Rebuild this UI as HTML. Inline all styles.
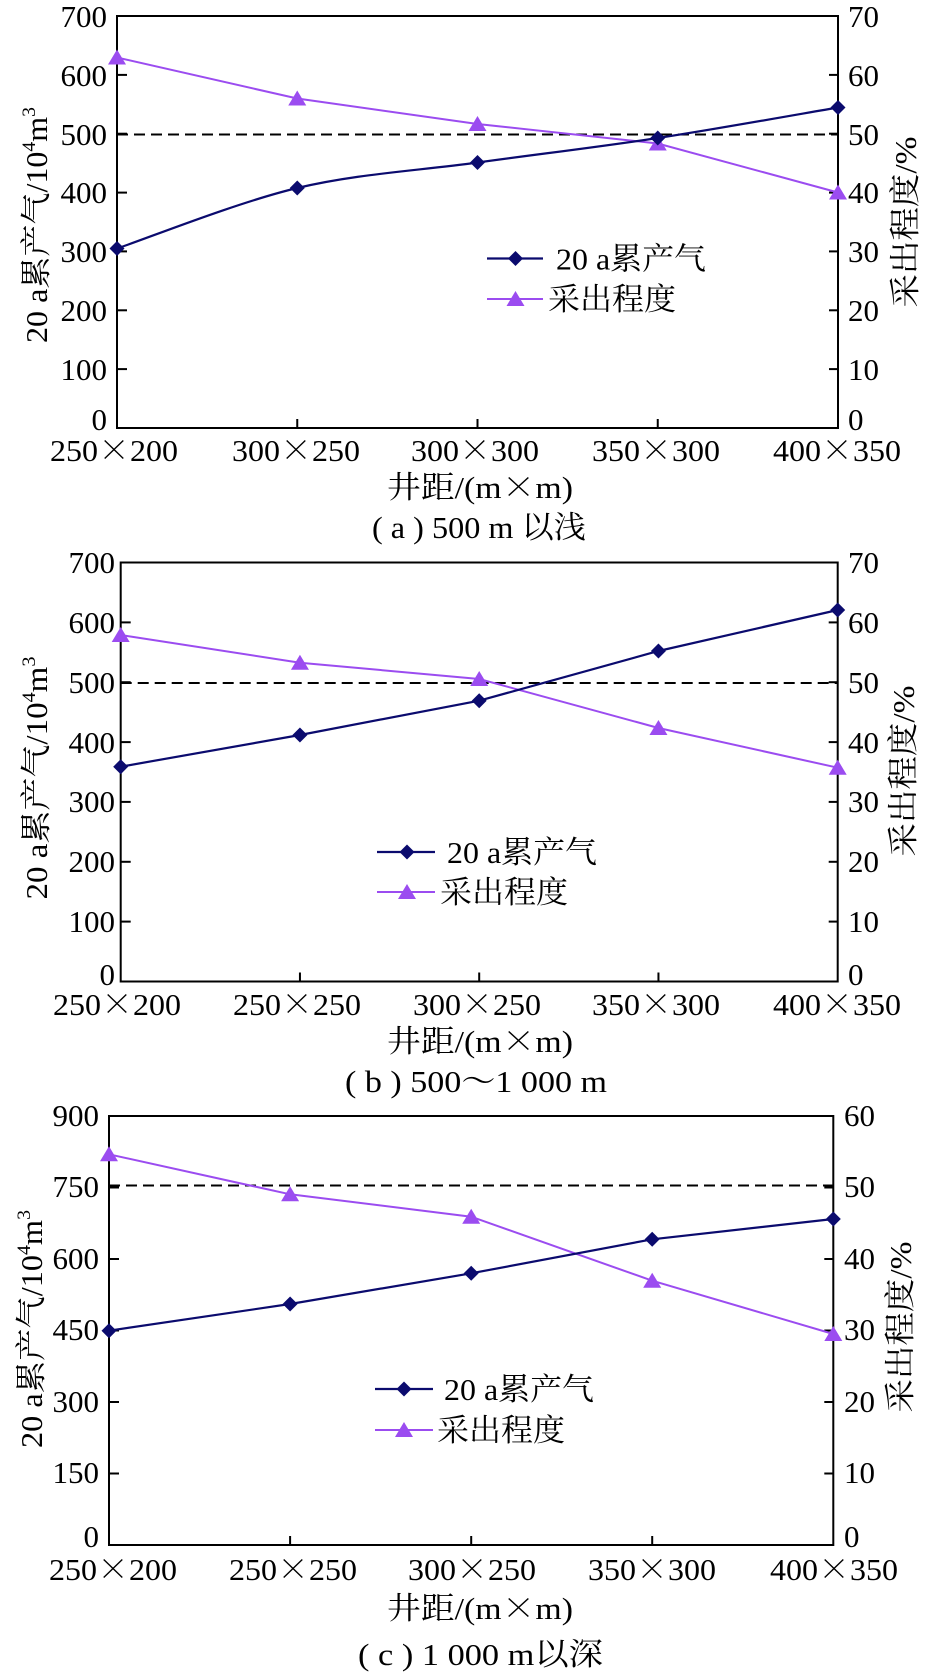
<!DOCTYPE html>
<html><head><meta charset="utf-8">
<style>
html,body{margin:0;padding:0;background:#fff;}
svg{display:block;}
text{font-family:"Liberation Serif","Noto Serif CJK SC",serif;fill:#000;}
.x{font-family:"Noto Serif CJK SC","Liberation Serif",serif;}
</style></head>
<body>
<svg width="927" height="1673" viewBox="0 0 927 1673" xmlns="http://www.w3.org/2000/svg">
<rect width="927" height="1673" fill="#fff"/>

<!-- ================= Chart (a) ================= -->
<g>
  <line x1="117" y1="134.5" x2="838" y2="134.5" stroke="#000" stroke-width="2" stroke-dasharray="11,6"/>
  <rect x="117" y="16" width="721" height="412" fill="none" stroke="#000" stroke-width="2"/>
  <g stroke="#000" stroke-width="2">
    <line x1="117" y1="74.9" x2="127" y2="74.9"/>
    <line x1="117" y1="133.7" x2="127" y2="133.7"/>
    <line x1="117" y1="192.6" x2="127" y2="192.6"/>
    <line x1="117" y1="251.4" x2="127" y2="251.4"/>
    <line x1="117" y1="310.3" x2="127" y2="310.3"/>
    <line x1="117" y1="369.1" x2="127" y2="369.1"/>
    <line x1="838" y1="74.9" x2="829" y2="74.9"/>
    <line x1="838" y1="133.7" x2="829" y2="133.7"/>
    <line x1="838" y1="192.6" x2="829" y2="192.6"/>
    <line x1="838" y1="251.4" x2="829" y2="251.4"/>
    <line x1="838" y1="310.3" x2="829" y2="310.3"/>
    <line x1="838" y1="369.1" x2="829" y2="369.1"/>
    <line x1="297.25" y1="428" x2="297.25" y2="419"/>
    <line x1="477.5" y1="428" x2="477.5" y2="419"/>
    <line x1="657.75" y1="428" x2="657.75" y2="419"/>
  </g>
  <g font-size="31" text-anchor="end">
    <text x="107" y="27">700</text>
    <text x="107" y="86">600</text>
    <text x="107" y="145">500</text>
    <text x="107" y="203">400</text>
    <text x="107" y="262">300</text>
    <text x="107" y="321">200</text>
    <text x="107" y="380">100</text>
    <text x="107" y="430">0</text>
  </g>
  <g font-size="31" text-anchor="start">
    <text x="848" y="27">70</text>
    <text x="848" y="86">60</text>
    <text x="848" y="145">50</text>
    <text x="848" y="203">40</text>
    <text x="848" y="262">30</text>
    <text x="848" y="321">20</text>
    <text x="848" y="380">10</text>
    <text x="848" y="430">0</text>
  </g>
  <g font-size="31">
    <text x="50" y="461" textLength="128" lengthAdjust="spacingAndGlyphs">250<tspan class="x">×</tspan>200</text>
    <text x="232" y="461" textLength="128" lengthAdjust="spacingAndGlyphs">300<tspan class="x">×</tspan>250</text>
    <text x="411" y="461" textLength="128" lengthAdjust="spacingAndGlyphs">300<tspan class="x">×</tspan>300</text>
    <text x="592" y="461" textLength="128" lengthAdjust="spacingAndGlyphs">350<tspan class="x">×</tspan>300</text>
    <text x="773" y="461" textLength="128" lengthAdjust="spacingAndGlyphs">400<tspan class="x">×</tspan>350</text>
  </g>
  <text x="387" y="498" font-size="31" textLength="186" lengthAdjust="spacingAndGlyphs">井距/(m<tspan class="x">×</tspan>m)</text>
  <text x="372" y="538" font-size="31" textLength="214" lengthAdjust="spacingAndGlyphs">( a ) 500 m 以浅</text>
  <text transform="translate(47,225) rotate(-90)" text-anchor="middle" font-size="31" textLength="236" lengthAdjust="spacingAndGlyphs">20 a累产气/10<tspan font-size="19" dy="-12">4</tspan><tspan dy="12">m</tspan><tspan font-size="19" dy="-12">3</tspan></text>
  <text transform="translate(916,222) rotate(-90)" text-anchor="middle" font-size="31" textLength="171" lengthAdjust="spacingAndGlyphs">采出程度/%</text>
  <polyline points="117,57.5 297.25,98.5 477.5,124 657.75,143.5 838,192.5" fill="none" stroke="#9b4cf0" stroke-width="2"/>
  <path d="M117,248.5 C147.04,238.42 237.17,202.33 297.25,188 C357.33,173.67 417.42,170.83 477.5,162.5 C537.58,154.17 597.67,147.17 657.75,138 C717.83,128.83 807.96,112.58 838,107.5" fill="none" stroke="#0b0b6e" stroke-width="2.2"/>
  <g fill="#9b4cf0">
    <polygon points="117,49.5 108,64.5 126,64.5"/>
    <polygon points="297.25,90.5 288.25,105.5 306.25,105.5"/>
    <polygon points="477.5,116 468.5,131 486.5,131"/>
    <polygon points="657.75,135.5 648.75,150.5 666.75,150.5"/>
    <polygon points="838,184.5 829,199.5 847,199.5"/>
  </g>
  <g fill="#0b0b6e">
    <polygon points="117,241 124.5,248.5 117,256 109.5,248.5"/>
    <polygon points="297.25,180.5 304.75,188 297.25,195.5 289.75,188"/>
    <polygon points="477.5,155 485,162.5 477.5,170 470,162.5"/>
    <polygon points="657.75,130.5 665.25,138 657.75,145.5 650.25,138"/>
    <polygon points="838,100 845.5,107.5 838,115 830.5,107.5"/>
  </g>
  <line x1="487" y1="258.5" x2="543" y2="258.5" stroke="#0b0b6e" stroke-width="2.2"/>
  <polygon points="515.5,251 523,258.5 515.5,266 508,258.5" fill="#0b0b6e"/>
  <text x="556" y="269.5" font-size="31" textLength="150" lengthAdjust="spacingAndGlyphs">20 a累产气</text>
  <line x1="487" y1="299" x2="543" y2="299" stroke="#9b4cf0" stroke-width="2"/>
  <polygon points="515.5,291 506.5,306 524.5,306" fill="#9b4cf0"/>
  <text x="548" y="310" font-size="31" textLength="128" lengthAdjust="spacingAndGlyphs">采出程度</text>
</g>

<!-- ================= Chart (b) ================= -->
<g>
  <line x1="120.7" y1="683" x2="837.7" y2="683" stroke="#000" stroke-width="2" stroke-dasharray="11,6"/>
  <rect x="120.7" y="562.5" width="717" height="419" fill="none" stroke="#000" stroke-width="2"/>
  <g stroke="#000" stroke-width="2">
    <line x1="120.7" y1="622.4" x2="130.7" y2="622.4"/>
    <line x1="120.7" y1="682.2" x2="130.7" y2="682.2"/>
    <line x1="120.7" y1="742.1" x2="130.7" y2="742.1"/>
    <line x1="120.7" y1="801.9" x2="130.7" y2="801.9"/>
    <line x1="120.7" y1="861.8" x2="130.7" y2="861.8"/>
    <line x1="120.7" y1="921.6" x2="130.7" y2="921.6"/>
    <line x1="837.7" y1="622.4" x2="828.7" y2="622.4"/>
    <line x1="837.7" y1="682.2" x2="828.7" y2="682.2"/>
    <line x1="837.7" y1="742.1" x2="828.7" y2="742.1"/>
    <line x1="837.7" y1="801.9" x2="828.7" y2="801.9"/>
    <line x1="837.7" y1="861.8" x2="828.7" y2="861.8"/>
    <line x1="837.7" y1="921.6" x2="828.7" y2="921.6"/>
    <line x1="299.95" y1="981.5" x2="299.95" y2="972.5"/>
    <line x1="479.2" y1="981.5" x2="479.2" y2="972.5"/>
    <line x1="658.45" y1="981.5" x2="658.45" y2="972.5"/>
  </g>
  <g font-size="31" text-anchor="end">
    <text x="115" y="573">700</text>
    <text x="115" y="633">600</text>
    <text x="115" y="693">500</text>
    <text x="115" y="753">400</text>
    <text x="115" y="812">300</text>
    <text x="115" y="872">200</text>
    <text x="115" y="932">100</text>
    <text x="115" y="985">0</text>
  </g>
  <g font-size="31" text-anchor="start">
    <text x="848" y="573">70</text>
    <text x="848" y="633">60</text>
    <text x="848" y="693">50</text>
    <text x="848" y="753">40</text>
    <text x="848" y="812">30</text>
    <text x="848" y="872">20</text>
    <text x="848" y="932">10</text>
    <text x="848" y="985">0</text>
  </g>
  <g font-size="31">
    <text x="53" y="1015" textLength="128" lengthAdjust="spacingAndGlyphs">250<tspan class="x">×</tspan>200</text>
    <text x="233" y="1015" textLength="128" lengthAdjust="spacingAndGlyphs">250<tspan class="x">×</tspan>250</text>
    <text x="413" y="1015" textLength="128" lengthAdjust="spacingAndGlyphs">300<tspan class="x">×</tspan>250</text>
    <text x="592" y="1015" textLength="128" lengthAdjust="spacingAndGlyphs">350<tspan class="x">×</tspan>300</text>
    <text x="773" y="1015" textLength="128" lengthAdjust="spacingAndGlyphs">400<tspan class="x">×</tspan>350</text>
  </g>
  <text x="387" y="1052" font-size="31" textLength="186" lengthAdjust="spacingAndGlyphs">井距/(m<tspan class="x">×</tspan>m)</text>
  <text x="345" y="1092" font-size="31" textLength="262" lengthAdjust="spacingAndGlyphs">( b ) 500～1 000 m</text>
  <text transform="translate(47,778) rotate(-90)" text-anchor="middle" font-size="31" textLength="243" lengthAdjust="spacingAndGlyphs">20 a累产气/10<tspan font-size="19" dy="-12">4</tspan><tspan dy="12">m</tspan><tspan font-size="19" dy="-12">3</tspan></text>
  <text transform="translate(914,771) rotate(-90)" text-anchor="middle" font-size="31" textLength="171" lengthAdjust="spacingAndGlyphs">采出程度/%</text>
  <polyline points="120.7,635 299.95,662.7 479.2,679 658.45,728 837.7,767.7" fill="none" stroke="#9b4cf0" stroke-width="2"/>
  <polyline points="120.7,766.7 299.95,735 479.2,700.7 658.45,651 837.7,610" fill="none" stroke="#0b0b6e" stroke-width="2.2"/>
  <g fill="#9b4cf0">
    <polygon points="120.7,627 111.7,642 129.7,642"/>
    <polygon points="299.95,654.7 290.95,669.7 308.95,669.7"/>
    <polygon points="479.2,671 470.2,686 488.2,686"/>
    <polygon points="658.45,720 649.45,735 667.45,735"/>
    <polygon points="837.7,759.7 828.7,774.7 846.7,774.7"/>
  </g>
  <g fill="#0b0b6e">
    <polygon points="120.7,759.2 128.2,766.7 120.7,774.2 113.2,766.7"/>
    <polygon points="299.95,727.5 307.45,735 299.95,742.5 292.45,735"/>
    <polygon points="479.2,693.2 486.7,700.7 479.2,708.2 471.7,700.7"/>
    <polygon points="658.45,643.5 665.95,651 658.45,658.5 650.95,651"/>
    <polygon points="837.7,602.5 845.2,610 837.7,617.5 830.2,610"/>
  </g>
  <line x1="377" y1="852" x2="435" y2="852" stroke="#0b0b6e" stroke-width="2.2"/>
  <polygon points="407,844.5 414.5,852 407,859.5 399.5,852" fill="#0b0b6e"/>
  <text x="447" y="863" font-size="31" textLength="150" lengthAdjust="spacingAndGlyphs">20 a累产气</text>
  <line x1="377" y1="892" x2="435" y2="892" stroke="#9b4cf0" stroke-width="2"/>
  <polygon points="407,884 398,899 416,899" fill="#9b4cf0"/>
  <text x="440" y="903" font-size="31" textLength="128" lengthAdjust="spacingAndGlyphs">采出程度</text>
</g>

<!-- ================= Chart (c) ================= -->
<g>
  <line x1="109" y1="1185.5" x2="833.3" y2="1185.5" stroke="#000" stroke-width="2" stroke-dasharray="11,6"/>
  <rect x="109" y="1116" width="724.3" height="429" fill="none" stroke="#000" stroke-width="2"/>
  <g stroke="#000" stroke-width="2">
    <line x1="109" y1="1187.5" x2="119" y2="1187.5"/>
    <line x1="109" y1="1259" x2="119" y2="1259"/>
    <line x1="109" y1="1330.5" x2="119" y2="1330.5"/>
    <line x1="109" y1="1402" x2="119" y2="1402"/>
    <line x1="109" y1="1473.5" x2="119" y2="1473.5"/>
    <line x1="833.3" y1="1187.5" x2="824.3" y2="1187.5"/>
    <line x1="833.3" y1="1259" x2="824.3" y2="1259"/>
    <line x1="833.3" y1="1330.5" x2="824.3" y2="1330.5"/>
    <line x1="833.3" y1="1402" x2="824.3" y2="1402"/>
    <line x1="833.3" y1="1473.5" x2="824.3" y2="1473.5"/>
    <line x1="290.1" y1="1545" x2="290.1" y2="1536"/>
    <line x1="471.2" y1="1545" x2="471.2" y2="1536"/>
    <line x1="652.2" y1="1545" x2="652.2" y2="1536"/>
  </g>
  <g font-size="31" text-anchor="end">
    <text x="99" y="1126">900</text>
    <text x="99" y="1197">750</text>
    <text x="99" y="1269">600</text>
    <text x="99" y="1340">450</text>
    <text x="99" y="1412">300</text>
    <text x="99" y="1483">150</text>
    <text x="99" y="1547">0</text>
  </g>
  <g font-size="31" text-anchor="start">
    <text x="844" y="1126">60</text>
    <text x="844" y="1197">50</text>
    <text x="844" y="1269">40</text>
    <text x="844" y="1340">30</text>
    <text x="844" y="1412">20</text>
    <text x="844" y="1483">10</text>
    <text x="844" y="1547">0</text>
  </g>
  <g font-size="31">
    <text x="49" y="1580" textLength="128" lengthAdjust="spacingAndGlyphs">250<tspan class="x">×</tspan>200</text>
    <text x="229" y="1580" textLength="128" lengthAdjust="spacingAndGlyphs">250<tspan class="x">×</tspan>250</text>
    <text x="408" y="1580" textLength="128" lengthAdjust="spacingAndGlyphs">300<tspan class="x">×</tspan>250</text>
    <text x="588" y="1580" textLength="128" lengthAdjust="spacingAndGlyphs">350<tspan class="x">×</tspan>300</text>
    <text x="770" y="1580" textLength="128" lengthAdjust="spacingAndGlyphs">400<tspan class="x">×</tspan>350</text>
  </g>
  <text x="387" y="1619" font-size="31" textLength="186" lengthAdjust="spacingAndGlyphs">井距/(m<tspan class="x">×</tspan>m)</text>
  <text x="358" y="1665" font-size="31" textLength="245" lengthAdjust="spacingAndGlyphs">( c ) 1 000 m以深</text>
  <text transform="translate(42,1329) rotate(-90)" text-anchor="middle" font-size="31" textLength="238" lengthAdjust="spacingAndGlyphs">20 a累产气/10<tspan font-size="19" dy="-12">4</tspan><tspan dy="12">m</tspan><tspan font-size="19" dy="-12">3</tspan></text>
  <text transform="translate(911,1327) rotate(-90)" text-anchor="middle" font-size="31" textLength="171" lengthAdjust="spacingAndGlyphs">采出程度/%</text>
  <polyline points="109,1154.3 290.1,1194.3 471.2,1216.7 652.2,1280.7 833.3,1334" fill="none" stroke="#9b4cf0" stroke-width="2"/>
  <polyline points="109,1330.7 290.1,1304 471.2,1273.3 652.2,1239.3 833.3,1219" fill="none" stroke="#0b0b6e" stroke-width="2.2"/>
  <g fill="#9b4cf0">
    <polygon points="109,1146.3 100,1161.3 118,1161.3"/>
    <polygon points="290.1,1186.3 281.1,1201.3 299.1,1201.3"/>
    <polygon points="471.2,1208.7 462.2,1223.7 480.2,1223.7"/>
    <polygon points="652.2,1272.7 643.2,1287.7 661.2,1287.7"/>
    <polygon points="833.3,1326 824.3,1341 842.3,1341"/>
  </g>
  <g fill="#0b0b6e">
    <polygon points="109,1323.2 116.5,1330.7 109,1338.2 101.5,1330.7"/>
    <polygon points="290.1,1296.5 297.6,1304 290.1,1311.5 282.6,1304"/>
    <polygon points="471.2,1265.8 478.7,1273.3 471.2,1280.8 463.7,1273.3"/>
    <polygon points="652.2,1231.8 659.7,1239.3 652.2,1246.8 644.7,1239.3"/>
    <polygon points="833.3,1211.5 840.8,1219 833.3,1226.5 825.8,1219"/>
  </g>
  <line x1="375" y1="1389" x2="433" y2="1389" stroke="#0b0b6e" stroke-width="2.2"/>
  <polygon points="404,1381.5 411.5,1389 404,1396.5 396.5,1389" fill="#0b0b6e"/>
  <text x="444" y="1400" font-size="31" textLength="150" lengthAdjust="spacingAndGlyphs">20 a累产气</text>
  <line x1="375" y1="1430" x2="433" y2="1430" stroke="#9b4cf0" stroke-width="2"/>
  <polygon points="404,1422 395,1437 413,1437" fill="#9b4cf0"/>
  <text x="437" y="1441" font-size="31" textLength="128" lengthAdjust="spacingAndGlyphs">采出程度</text>
</g>
</svg>
</body></html>
